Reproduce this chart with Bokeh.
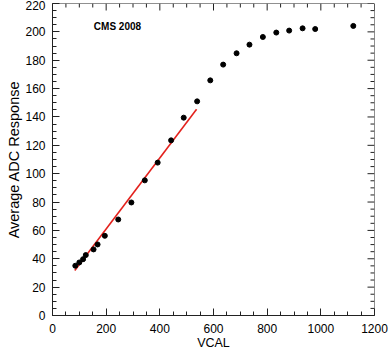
from bokeh.plotting import figure
from bokeh.models import SingleIntervalTicker, Label, ColumnDataSource
from bokeh.embed import file_html
from bokeh.resources import INLINE
import numpy as np

# Data
vcal = [85, 100, 114, 124, 153, 168, 195, 245, 294, 344, 392, 442, 489, 539,
        588, 636, 686, 734, 784, 834, 882, 932, 979, 1121]
adc = [35.1, 37.4, 39.7, 42.6, 46.6, 50.1, 56.2, 67.7, 79.7, 95.3, 107.8, 123.5,
       139.5, 151.0, 165.8, 176.9, 184.9, 191.0, 196.4, 199.5, 200.9, 202.5, 202.0, 204.2]

fit_slope = 0.2502
fit_intercept = 11.0
fit_range = [83, 537]

x_min, x_max = 0, 1200
y_min, y_max = 0, 220
x_ticks_interval = 200
y_ticks_interval = 20
minor_per_major = 4

FONT = "Liberation Sans"
AX = "#222222"

p = figure(width=388, height=352, x_range=(x_min, x_max), y_range=(y_min, y_max),
           output_backend="svg", toolbar_location=None,
           min_border_left=52, min_border_right=14, min_border_top=3, min_border_bottom=37)
p.xgrid.visible = False
p.ygrid.visible = False
p.outline_line_color = None
p.background_fill_color = "white"
p.border_fill_color = "white"

def style_axis(ax, ticker):
    ax.ticker = ticker
    ax.major_tick_in = 7
    ax.major_tick_out = 0
    ax.minor_tick_in = 4
    ax.minor_tick_out = 0
    ax.axis_line_color = AX
    ax.major_tick_line_color = AX
    ax.minor_tick_line_color = AX
    ax.axis_line_width = 1
    ax.major_label_text_font = FONT
    ax.major_label_text_font_size = "12px"
    ax.major_label_text_color = "black"
    ax.axis_label_text_font = FONT
    ax.axis_label_text_font_style = "normal"
    ax.axis_label_text_color = "black"

style_axis(p.xaxis[0], SingleIntervalTicker(interval=x_ticks_interval, num_minor_ticks=minor_per_major))
p.xaxis[0].axis_label = "VCAL"
p.xaxis[0].axis_label_text_font_size = "12.5px"
p.xaxis[0].major_label_standoff = 8
p.xaxis[0].axis_label_standoff = 0

style_axis(p.yaxis[0], SingleIntervalTicker(interval=y_ticks_interval, num_minor_ticks=minor_per_major))
p.yaxis[0].axis_label = "Average ADC Response"
p.yaxis[0].axis_label_text_font_size = "14.5px"
p.yaxis[0].major_label_standoff = 7
p.yaxis[0].axis_label_standoff = 0

# mirrored ticks on the top and right frame edges (screen-length rays)
minor_x = np.arange(x_min, x_max + 1, x_ticks_interval / minor_per_major)
minor_y = np.arange(y_min, y_max + 1, y_ticks_interval / minor_per_major)
is_major_x = (minor_x % x_ticks_interval) == 0
is_major_y = (minor_y % y_ticks_interval) == 0
p.ray(x=minor_x, y=[y_max] * len(minor_x), length=np.where(is_major_x, 7, 4),
      length_units="screen", angle=-np.pi / 2, line_color=AX, line_width=1)
p.ray(x=[x_max] * len(minor_y), y=minor_y, length=np.where(is_major_y, 7, 4),
      length_units="screen", angle=np.pi, line_color=AX, line_width=1)
p.segment(x0=[x_min], y0=[y_max], x1=[x_max], y1=[y_max], line_color=AX, line_width=1)
p.segment(x0=[x_max], y0=[y_min], x1=[x_max], y1=[y_max], line_color=AX, line_width=1)

fx = np.array(fit_range, dtype=float)
fy = fit_intercept + fit_slope * fx
p.line(fx, fy, line_color="#e3211c", line_width=1.6)

src = ColumnDataSource(dict(x=vcal, y=adc))
p.scatter("x", "y", source=src, size=5, fill_color="black", line_color="black")

p.add_layout(Label(x=154, y=204, text="CMS 2008", text_font=FONT, text_font_size="10px",
                   text_font_style="bold", text_baseline="middle", text_color="black"))

open("out.html", "w").write(file_html(p, INLINE))
